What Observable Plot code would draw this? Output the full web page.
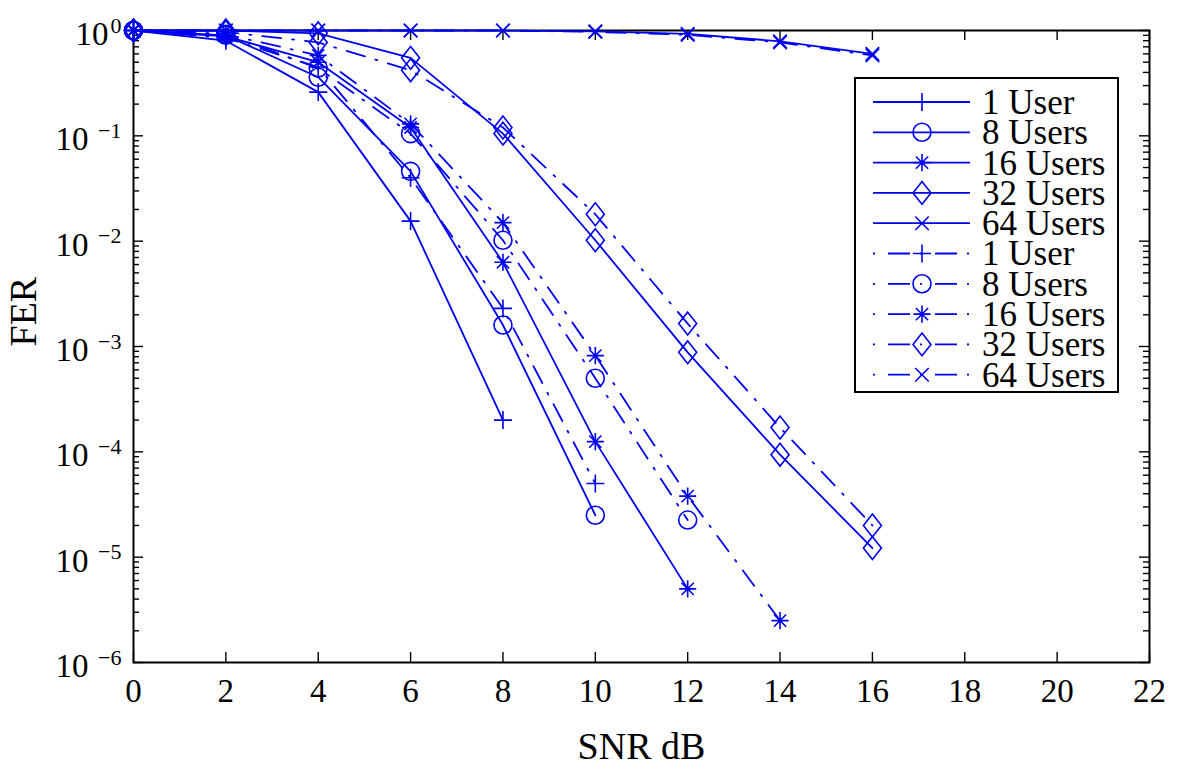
<!DOCTYPE html>
<html><head><meta charset="utf-8">
<script src="https://cdn.jsdelivr.net/npm/d3@7"></script>
<script src="https://cdn.jsdelivr.net/npm/@observablehq/plot@0.6"></script>
<style>
body{margin:0;background:#fff;font-family:"Liberation Serif", serif;}
#wrap{position:relative;width:1200px;height:772px;}
#legend{position:absolute;left:0;top:0;}
</style></head><body><div id="wrap"></div>
<script>
// ---- data ----
const snr = [0, 2, 4, 6, 8, 10, 12, 14, 16];
const userLabels = ["1 User", "8 Users", "16 Users", "32 Users", "64 Users"];
// solid curves
const solid1  = [1, 0.8, 0.26, 0.0155, 2.0e-4];
const solid8  = [1, 0.9, 0.36, 0.046, 0.0016, 2.5e-5];
const solid16 = [1, 0.88, 0.5, 0.12, 0.0063, 1.25e-4, 5e-6];
const solid32 = [1, 1.0, 0.94, 0.55, 0.105, 0.0102, 8.8e-4, 9.4e-5, 1.22e-5];
const solid64 = [1, 1, 1, 1, 1, 0.98, 0.93, 0.79, 0.6];
// dash-dot curves
const dash1  = [1, 0.85, 0.45, 0.04, 0.0023, 5e-5];
const dash8  = [1, 0.92, 0.44, 0.105, 0.0102, 5e-4, 2.25e-5];
const dash16 = [1, 0.92, 0.58, 0.13, 0.015, 8.2e-4, 3.8e-5, 2.5e-6];
const dash32 = [1, 0.97, 0.77, 0.42, 0.12, 0.018, 1.65e-3, 1.7e-4, 2.0e-5];
const dash64 = [1, 1, 1, 1, 1, 0.97, 0.91, 0.77, 0.58];
// axis ticks
const xTicks = [0, 2, 4, 6, 8, 10, 12, 14, 16, 18, 20, 22];
const yDecades = [1e-6, 1e-5, 1e-4, 1e-3, 1e-2, 1e-1, 1];
const yExponents = ["\u22126", "\u22125", "\u22124", "\u22123", "\u22122", "\u22121", "0"];
const xLabel = "SNR dB";
const yLabel = "FER";

// ---- layout / style ----
const W = 1200, H = 772, mL = 133, mR = 51, mT = 30, mB = 110;
const innerW = W - mL - mR, innerH = H - mT - mB;
const blue = "#0000f0";
const FONT = "Liberation Serif";
const DASHDOT = "19,11,2,11";

function sym(fn) { return {draw(ctx, size) { const R = Math.sqrt(size / Math.PI); fn(ctx, R); }}; }
const symPlus = sym((c, R) => { c.moveTo(-R, 0); c.lineTo(R, 0); c.moveTo(0, -R); c.lineTo(0, R); });
const symCircle = sym((c, R) => { c.moveTo(R, 0); c.arc(0, 0, R, 0, 2 * Math.PI); });
const symStar = sym((c, R) => { const a = R * 0.95, b = R * 0.68;
  c.moveTo(-a, 0); c.lineTo(a, 0); c.moveTo(0, -a); c.lineTo(0, a);
  c.moveTo(-b, -b); c.lineTo(b, b); c.moveTo(-b, b); c.lineTo(b, -b); });
const symDiamond = sym((c, R) => { const w = R, h = R * 1.27;
  c.moveTo(0, -h); c.lineTo(w, 0); c.lineTo(0, h); c.lineTo(-w, 0); c.closePath(); });
const symTimes = sym((c, R) => { const a = R * 0.75;
  c.moveTo(-a, -a); c.lineTo(a, a); c.moveTo(-a, a); c.lineTo(a, -a); });
const symbols = [symPlus, symCircle, symStar, symDiamond, symTimes];

const solidSets = [solid1, solid8, solid16, solid32, solid64];
const dashSets = [dash1, dash8, dash16, dash32, dash64];
const rows = [];
solidSets.forEach((vals, i) => vals.forEach((v, j) => rows.push({snr: snr[j], fer: v, users: userLabels[i], style: "solid", key: "s" + i})));
dashSets.forEach((vals, i) => vals.forEach((v, j) => rows.push({snr: snr[j], fer: v, users: userLabels[i], style: "dash", key: "d" + i})));

const yMinor = [];
yDecades.slice(0, -1).forEach(d => { for (let k = 2; k <= 9; k++) yMinor.push(d * k); });

const txt = {fontFamily: FONT, fill: "black"};
const chart = Plot.plot({
  width: W, height: H,
  marginLeft: mL, marginRight: mR, marginTop: mT, marginBottom: mB,
  style: {fontFamily: FONT, fontSize: "33px", background: "white", color: "black", overflow: "visible"},
  x: {domain: [0, 22], axis: null},
  y: {type: "log", domain: [1e-6, 1], axis: null},
  symbol: {domain: userLabels, range: symbols, legend: false},
  marks: [
    // ticks (inside, all four sides)
    Plot.tickX(xTicks, {x: d => d, insetTop: innerH - 10, stroke: "black", strokeWidth: 1.4}),
    Plot.tickX(xTicks, {x: d => d, insetBottom: innerH - 10, stroke: "black", strokeWidth: 1.4}),
    Plot.tickY(yDecades, {y: d => d, insetRight: innerW - 10, stroke: "black", strokeWidth: 1.4}),
    Plot.tickY(yDecades, {y: d => d, insetLeft: innerW - 10, stroke: "black", strokeWidth: 1.4}),
    Plot.tickY(yMinor, {y: d => d, insetRight: innerW - 6, stroke: "black", strokeWidth: 1.4}),
    Plot.tickY(yMinor, {y: d => d, insetLeft: innerW - 6, stroke: "black", strokeWidth: 1.4}),
    Plot.frame({stroke: "black", strokeWidth: 2}),
    // curves
    Plot.line(rows.filter(d => d.style === "solid"), {x: "snr", y: "fer", z: "key", stroke: blue, strokeWidth: 1.8}),
    Plot.line(rows.filter(d => d.style === "dash"), {x: "snr", y: "fer", z: "key", stroke: blue, strokeWidth: 1.8, strokeDasharray: DASHDOT}),
    Plot.dot(rows, {x: "snr", y: "fer", symbol: "users", r: 9, stroke: blue, fill: "none", strokeWidth: 1.6}),
    // tick labels
    Plot.text(xTicks, {...txt, x: d => d, frameAnchor: "bottom", dy: 29, lineAnchor: "middle", text: d => String(d), fontSize: 33}),
    Plot.text(yDecades.filter(d => d < 1), {...txt, y: d => d, frameAnchor: "left", text: () => "10", textAnchor: "end", dx: -45, dy: 4, lineAnchor: "middle", fontSize: 33}),
    Plot.text(yDecades.filter(d => d === 1), {...txt, y: d => d, frameAnchor: "left", text: () => "10", textAnchor: "end", dx: -25, dy: 4, lineAnchor: "middle", fontSize: 33}),
    Plot.text(yDecades, {...txt, y: d => d, frameAnchor: "left", text: (d, i) => yExponents[i], textAnchor: "end", dx: -12, dy: -5, lineAnchor: "middle", fontSize: 22}),
    // axis labels
    Plot.text([xLabel], {...txt, frameAnchor: "bottom", dy: 84, lineAnchor: "middle", text: d => d, fontSize: 38}),
    Plot.text([yLabel], {...txt, frameAnchor: "left", dx: -110, rotate: -90, lineAnchor: "middle", text: d => d, fontSize: 38})
  ]
});
const wrap = document.getElementById("wrap");
wrap.appendChild(chart);

// ---- legend (overlay) ----
const lg = d3.select(wrap).append("svg").attr("id", "legend").attr("width", W).attr("height", H);
const box = {x: 855, y: 78, w: 263, h: 314};
lg.append("rect").attr("x", box.x).attr("y", box.y).attr("width", box.w).attr("height", box.h)
  .attr("fill", "white").attr("stroke", "black").attr("stroke-width", 2);
const entries = [];
userLabels.forEach((u, i) => entries.push({label: u, sym: symbols[i], dash: null}));
userLabels.forEach((u, i) => entries.push({label: u, sym: symbols[i], dash: "2,13,22,10"}));
entries.forEach((e, i) => {
  const cy = box.y + 24 + i * 30.3;
  const g = lg.append("g");
  g.append("line").attr("x1", 873).attr("x2", 970).attr("y1", cy).attr("y2", cy)
    .attr("stroke", blue).attr("stroke-width", 1.8).attr("stroke-dasharray", e.dash);
  g.append("path").attr("transform", `translate(922,${cy})`)
    .attr("d", d3.symbol().type(e.sym).size(81 * Math.PI)())
    .attr("fill", "none").attr("stroke", blue).attr("stroke-width", 1.6);
  g.append("text").attr("x", 982).attr("y", cy).attr("dy", "0.34em")
    .attr("font-family", FONT).attr("font-size", 35).attr("fill", "black").text(e.label);
});
</script>
</body></html>
